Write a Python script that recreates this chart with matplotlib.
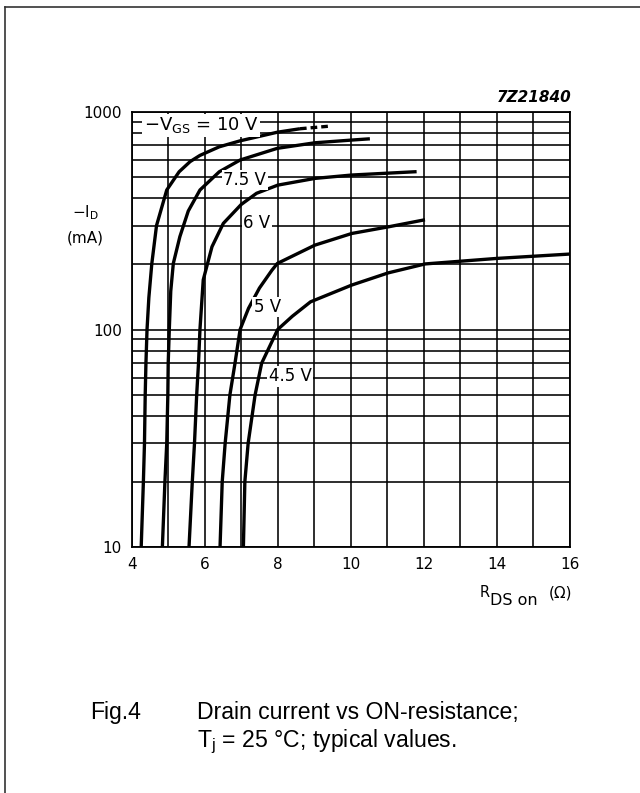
import matplotlib
matplotlib.use("Agg")
import matplotlib.pyplot as plt
from matplotlib.lines import Line2D

# ---- data (R_DS on in ohm, -I_D in mA) ----
v10_x = [4.26, 4.32, 4.35, 4.37, 4.39, 4.42, 4.47, 4.55, 4.68, 4.96, 5.30, 5.60, 5.87, 6.40, 6.97, 7.99, 8.61]
v10_y = [10, 20, 30, 50, 70, 100, 140, 200, 300, 437, 530, 590, 630, 690, 735, 805, 835]
v10_dash_x = [8.61, 9.48]
v10_dash_y = [835, 860]

v75_x = [4.84, 4.91, 4.96, 4.99, 5.00, 5.03, 5.07, 5.14, 5.32, 5.55, 5.87, 6.40, 6.97, 7.99, 9.02, 10.03, 10.48]
v75_y = [10, 20, 30, 50, 70, 100, 150, 201, 267, 350, 437, 530, 600, 679, 720, 741, 750]

v6_x = [5.57, 5.66, 5.72, 5.78, 5.83, 5.87, 5.96, 6.20, 6.51, 7.00, 7.42, 8.00, 9.02, 10.03, 11.76]
v6_y = [10, 20, 30, 50, 70, 100, 169, 240, 307, 375, 422, 460, 494, 512, 530]

v5_x = [6.42, 6.48, 6.56, 6.69, 6.83, 6.97, 7.20, 7.50, 7.84, 7.99, 9.02, 10.03, 11.03, 11.99]
v5_y = [10, 20, 30, 50, 70, 100, 125, 155, 187, 201, 244, 276, 296, 318]

v45_x = [7.06, 7.10, 7.19, 7.38, 7.56, 8.00, 8.40, 8.90, 10.03, 11.03, 12.04, 14.00, 16.00]
v45_y = [10, 20, 30, 50, 70, 100, 115, 134, 160, 182, 200, 212, 222]

x_ticks = [4, 6, 8, 10, 12, 14, 16]
y_ticks = [10, 100, 1000]
y_tick_labels = ["10", "100", "1000"]

W, H = 640, 793
fig = plt.figure(figsize=(W / 100, H / 100), dpi=100)
plt.rcParams['font.family'] = ['DejaVu Sans']

def fx(px):
    return px / W

def fy(py):
    return 1 - py / H

ax = fig.add_axes([fx(131.7), fy(547.3), fx(569.7) - fx(131.7), fy(111.7) - fy(547.3)])
ax.set_yscale('log')
ax.set_xlim(4, 16)
ax.set_ylim(10, 1000)

# grid
ax.set_xticks(x_ticks)
ax.set_xticks(range(4, 17), minor=True)
ax.set_yticks(y_ticks)
ax.set_yticklabels(y_tick_labels)
ax.yaxis.set_minor_locator(matplotlib.ticker.LogLocator(base=10, subs=range(2, 10)))
ax.yaxis.set_minor_formatter(matplotlib.ticker.NullFormatter())
ax.grid(True, which='both', color='black', linewidth=1.15)
ax.tick_params(which='both', length=0, labelsize=11, pad=7)
for s in ax.spines.values():
    s.set_linewidth(1.3)

lw = 2.4
ax.plot(v10_x, v10_y, color='black', lw=lw, solid_capstyle='butt')
ax.plot(v10_dash_x, v10_dash_y, color='black', lw=lw, ls=(0, (2.0, 1.2)))
ax.plot(v75_x, v75_y, color='black', lw=lw)
ax.plot(v6_x, v6_y, color='black', lw=lw)
ax.plot(v5_x, v5_y, color='black', lw=lw)
ax.plot(v45_x, v45_y, color='black', lw=lw)

bb = dict(facecolor='white', edgecolor='none', pad=1.0)
ax.text(4.33, 868, r'$-$V$_{\mathregular{GS}}$ = 10 V', fontsize=13, ha='left', va='center', bbox=bb)
ax.text(7.10, 485, '7.5 V', fontsize=12, ha='center', va='center', bbox=bb)
ax.text(7.43, 308, '6 V', fontsize=12, ha='center', va='center', bbox=bb)
ax.text(7.71, 127, '5 V', fontsize=12, ha='center', va='center', bbox=bb)
ax.text(8.34, 61, '4.5 V', fontsize=12, ha='center', va='center', bbox=bb)

# axis labels
fig.text(fx(85), fy(213), r'$-$I$_{\mathregular{D}}$', fontsize=11, ha='center', va='center')
fig.text(fx(85), fy(238), '(mA)', fontsize=11, ha='center', va='center')
fig.text(fx(480), fy(597), 'R', fontsize=10.5, ha='left', va='baseline')
fig.text(fx(490), fy(605), 'DS on', fontsize=11.5, ha='left', va='baseline')
fig.text(fx(549), fy(597), '(Ω)', fontsize=11, ha='left', va='baseline')
fig.text(fx(572), fy(98), '7Z21840', fontsize=11, fontweight='bold', fontstyle='italic', ha='right', va='center')

# caption
cap_font = ['Liberation Sans', 'DejaVu Sans']
fig.text(fx(90), fy(713), 'Fig.4', fontsize=16.6, family=cap_font, ha='left', va='center')
fig.text(fx(197), fy(713), 'Drain current vs ON-resistance;', fontsize=16.6, family=cap_font, ha='left', va='center')
fig.text(fx(197), fy(742), r'T$_\mathregular{j}$ = 25 °C; typical values.', fontsize=16.6, family=cap_font, ha='left', va='center')

# frame (left and top edges)
fig.add_artist(Line2D([fx(5), fx(5)], [fy(7), 0], transform=fig.transFigure, color='#333333', lw=1.2))
fig.add_artist(Line2D([fx(5), 1], [fy(7), fy(7)], transform=fig.transFigure, color='#333333', lw=1.2))

fig.savefig('out.png', dpi=100)
